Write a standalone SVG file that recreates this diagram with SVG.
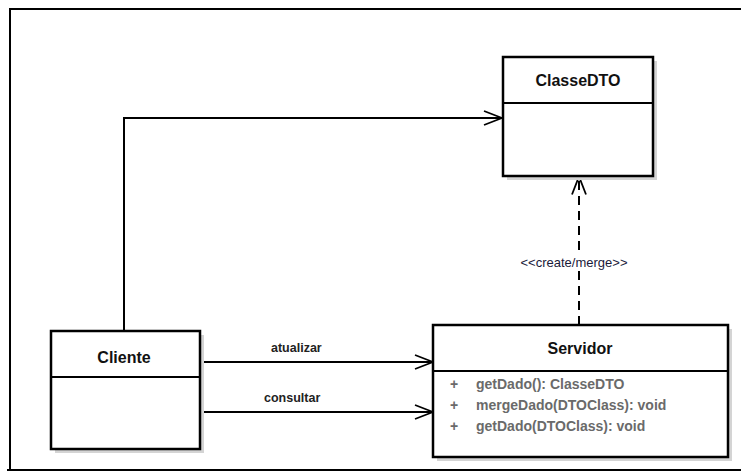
<svg xmlns="http://www.w3.org/2000/svg" width="741" height="475" viewBox="0 0 741 475">
  <style>
    .frame { fill: none; stroke: #000; stroke-width: 2; }
    .box { fill: #fff; stroke: #000; stroke-width: 2.5; }
    .shadow { fill: #d4d4d4; }
    .div { stroke: #000; stroke-width: 2; }
    .title { font-family: "Liberation Sans", Arial, sans-serif; font-weight: bold; font-size: 16px; fill: #111; text-anchor: middle; }
    .member { font-family: "Liberation Sans", Arial, sans-serif; font-weight: bold; font-size: 14px; fill: #6a6a6a; }
    .label { font-family: "Liberation Sans", Arial, sans-serif; font-weight: bold; font-size: 12.5px; fill: #222; }
    .stereo { font-family: "Liberation Sans", Arial, sans-serif; font-size: 13px; fill: #1a1a3a; text-anchor: middle; }
    .edge { fill: none; stroke: #000; stroke-width: 2; }
    .dashed { fill: none; stroke: #000; stroke-width: 2; stroke-dasharray: 9 6; }
  </style>
  <defs>
    <marker id="open" viewBox="0 0 20 20" refX="19" refY="10" markerWidth="20" markerHeight="20" markerUnits="userSpaceOnUse" orient="auto">
      <path d="M1,3 L19,10 L1,17" fill="none" stroke="#000" stroke-width="1.8"/>
    </marker>
  </defs>
  <rect width="741" height="475" fill="#fff"/>

  <!-- outer frame -->
  <path class="frame" d="M10,470 L10,9 L741,9"/>
  <path class="frame" d="M7,470 L741,470"/>

  <!-- connectors -->
  <g id="connectors">
    <path class="edge" d="M124,331 L124,118 L502,118" marker-end="url(#open)"/>
    <path class="edge" d="M200,362 L433,362" marker-end="url(#open)"/>
    <text class="label" x="271" y="352">atualizar</text>
    <path class="edge" d="M200,412 L433,412" stroke-width="1.6" marker-end="url(#open)"/>
    <text class="label" x="264" y="402">consultar</text>
    <path class="dashed" d="M579,325 L579,176.5" marker-end="url(#open)"/>
    <rect x="540" y="254" width="60" height="16" fill="#fff"/>
    <text class="stereo" x="574" y="267">&lt;&lt;create/merge&gt;&gt;</text>
  </g>

  <!-- ClasseDTO -->
  <g id="classedto">
    <rect class="shadow" x="507" y="61" width="150" height="119"/>
    <rect class="box" x="503" y="57" width="150" height="119"/>
    <line class="div" x1="503" y1="103" x2="653" y2="103"/>
    <text class="title" x="578" y="86">ClasseDTO</text>
  </g>

  <!-- Servidor -->
  <g id="servidor">
    <rect class="shadow" x="437" y="329" width="295" height="132"/>
    <rect class="box" x="433" y="325" width="295" height="132"/>
    <line class="div" x1="433" y1="371" x2="728" y2="371"/>
    <text class="title" x="580" y="354" font-size="17">Servidor</text>
    <text class="member" x="450" y="389">+</text>
    <text class="member" x="476" y="389">getDado(): ClasseDTO</text>
    <text class="member" x="450" y="410">+</text>
    <text class="member" x="476" y="410">mergeDado(DTOClass): void</text>
    <text class="member" x="450" y="431">+</text>
    <text class="member" x="476" y="431">getDado(DTOClass): void</text>
  </g>

  <!-- Cliente -->
  <g id="cliente">
    <rect class="shadow" x="55" y="335" width="149" height="118"/>
    <rect class="box" x="51" y="331" width="149" height="118"/>
    <line class="div" x1="51" y1="377" x2="200" y2="377"/>
    <text class="title" x="124" y="363">Cliente</text>
  </g>
</svg>
